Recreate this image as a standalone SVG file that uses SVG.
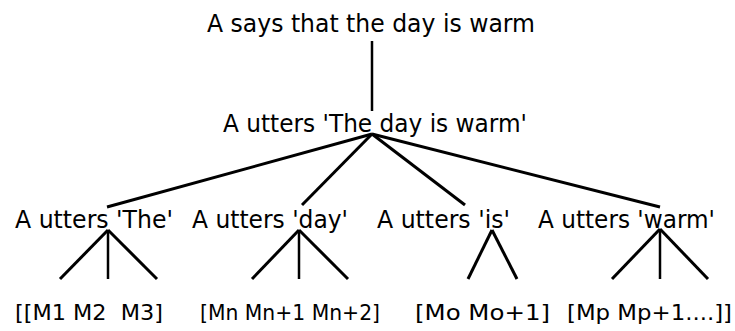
<svg xmlns="http://www.w3.org/2000/svg" width="735" height="331" viewBox="0 0 735 331">
<style>
text { font-family: "DejaVu Sans", Verdana, sans-serif; font-size: 24px; fill: #000; white-space: pre; }
text.m { font-size: 22px; }
.c line { stroke: #000; stroke-width: 3; stroke-linecap: butt; }
.c line.thin { stroke-width: 2.5; }
</style>
<rect width="735" height="331" fill="#fff"/>
<g id="n-says"><text x="207" y="32" textLength="328" lengthAdjust="spacingAndGlyphs">A says that the day is warm</text></g>
<g id="n-utters"><text x="223" y="132" textLength="304" lengthAdjust="spacingAndGlyphs">A utters 'The day is warm'</text></g>
<g id="n-the"><text x="15" y="228" textLength="158" lengthAdjust="spacingAndGlyphs">A utters 'The'</text></g>
<g id="n-day"><text x="192" y="228" textLength="156" lengthAdjust="spacingAndGlyphs">A utters 'day'</text></g>
<g id="n-is"><text x="377" y="228" textLength="133" lengthAdjust="spacingAndGlyphs">A utters 'is'</text></g>
<g id="n-warm"><text x="538" y="228" textLength="177" lengthAdjust="spacingAndGlyphs">A utters 'warm'</text></g>
<g id="n-m1"><text class="m" x="15" y="320" textLength="148" lengthAdjust="spacingAndGlyphs" xml:space="preserve">[[M1 M2  M3]</text></g>
<g id="n-mn"><text class="m" x="200" y="320" textLength="180" lengthAdjust="spacingAndGlyphs">[Mn Mn+1 Mn+2]</text></g>
<g id="n-mo"><text class="m" x="415" y="320" textLength="135" lengthAdjust="spacingAndGlyphs">[Mo Mo+1]</text></g>
<g id="n-mp"><text class="m" x="567" y="320" textLength="165" lengthAdjust="spacingAndGlyphs">[Mp Mp+1....]]</text></g>
<g id="connectors" class="c">
<line class="thin" x1="372" y1="41" x2="372" y2="111"/>
<line x1="372" y1="134" x2="107" y2="207"/>
<line x1="372" y1="134" x2="302" y2="205"/>
<line x1="372" y1="134" x2="465" y2="205"/>
<line x1="372" y1="134" x2="660" y2="207"/>
<line x1="108" y1="230" x2="60" y2="279"/>
<line class="thin" x1="108" y1="230" x2="108" y2="279"/>
<line x1="108" y1="230" x2="157" y2="279"/>
<line x1="299" y1="230" x2="252" y2="279"/>
<line class="thin" x1="299" y1="230" x2="299" y2="279"/>
<line x1="299" y1="230" x2="348" y2="279"/>
<line x1="492" y1="230" x2="468" y2="279"/>
<line x1="492" y1="230" x2="517" y2="279"/>
<line x1="660" y1="229" x2="612" y2="279"/>
<line class="thin" x1="660" y1="229" x2="660" y2="279"/>
<line x1="660" y1="229" x2="708" y2="279"/>
</g>
</svg>
